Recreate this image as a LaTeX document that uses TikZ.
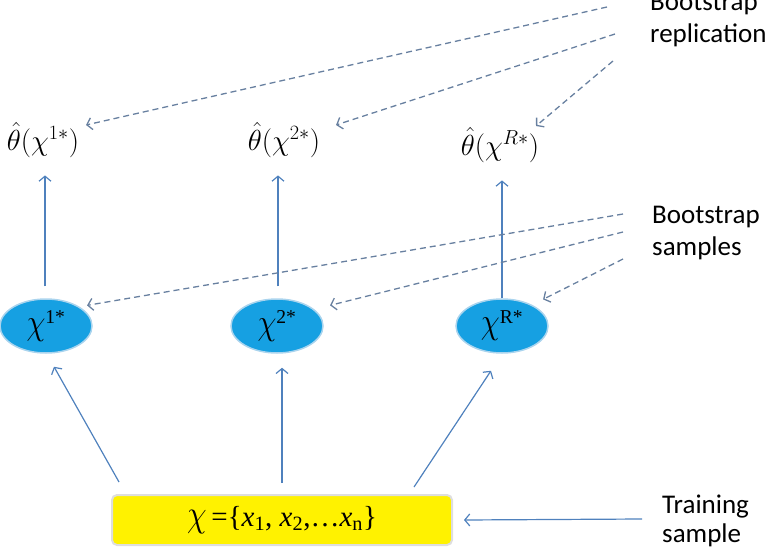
\documentclass[tikz,border=0pt]{standalone}
\usepackage{fix-cm}
\usepackage{graphicx}
\usepackage{fontspec}
\setmainfont{Liberation Serif}
\newfontfamily\calib{Carlito}
\usetikzlibrary{arrows.meta,shapes.geometric,calc}
\newcommand\tallchi{\scalebox{1.1}[1.3]{$\chi$}}
\definecolor{lineblue}{RGB}{79,129,189}
\definecolor{dashblue}{RGB}{104,128,160}
\definecolor{ellfill}{RGB}{22,160,226}
\definecolor{ellrim}{RGB}{170,212,238}
\definecolor{boxrim}{RGB}{222,222,222}
\begin{document}
\begin{tikzpicture}[x=1pt,y=-1pt,
  arr/.style={draw=lineblue, line width=1.2pt, -{Straight Barb[length=5pt,width=12pt]}},
  darr/.style={draw=dashblue, line width=1.3pt, dash pattern=on 6pt off 4pt, -{Straight Barb[length=5pt,width=12pt]}},
  sample/.style={ellipse, fill=ellfill, draw=ellrim, line width=1.5pt, inner sep=0pt, minimum width=92pt, minimum height=54pt, font=\fontsize{28}{32}\selectfont},
  est/.style={inner sep=0pt, anchor=base, font=\fontsize{29}{33}\selectfont},
  side/.style={inner sep=0pt, anchor=base west, align=left, font=\calib\fontsize{27}{32}\selectfont}]
\useasboundingbox (0,0) rectangle (768,559);

% training box
\node[draw=boxrim, line width=2pt, fill=yellow, rounded corners=5pt, minimum width=340pt, minimum height=50pt, inner sep=0pt,
      font=\fontsize{29}{32}\selectfont] (box) at (282,520) {\tallchi\,=\{\textit{x}\textsubscript{1}, \textit{x}\textsubscript{2},…\textit{x}\textsubscript{n}\}};

% bootstrap samples
\node[sample] (e1) at (46,326) {\tallchi\textsuperscript{1*}};
\node[sample] (e2) at (277,326) {\tallchi\textsuperscript{2*}};
\node[sample] (eR) at (502,326) {\tallchi\textsuperscript{R*}};

% estimates
\node[est] (t1) at (43,150) {$\hat{\theta}(\chi^{1*})$};
\node[est] (t2) at (284,150) {$\hat{\theta}(\chi^{2*})$};
\node[est] (tR) at (500,155) {$\hat{\theta}(\chi^{R*})$};

% side labels (base anchor = last line)
\node[side] (rep) at (650,43) {Bootstrap\\replication};
\node[side] (smp) at (652,255) {Bootstrap\\samples};
\node[side, font=\calib\fontsize{27}{29}\selectfont] (trn) at (662,542) {Training\\sample};

% free ends of connectors
\coordinate (r1) at (607,7);
\coordinate (r2) at (615,34);
\coordinate (r3) at (613,61);
\coordinate (s1) at (623,214);
\coordinate (s2) at (623,232);
\coordinate (s3) at (623,259);
\coordinate (tsrc) at (642,519);

% solid arrows
\draw[arr] ($(box.north west)+(8,-12)$) -- ($(e1.south)+(8,13)$);
\draw[arr] ($(box.north)+(0,-11)$) -- ($(box.north |- e2.south)+(0,14)$);
\draw[arr] ($(box.north east)+(-39,-7)$) -- ($(eR.south)+(-11,17)$);
\draw[arr] ($(e1.north)+(-1,-12)$) -- ($(e1.north |- t1.south)+(-1,18)$);
\draw[arr] ($(e2.north)+(1,-12)$) -- ($(e2.north |- t2.south)+(1,18)$);
\draw[arr] (eR.north) -- ($(eR.north |- tR.south)+(0,18)$);
\draw[arr] (tsrc) -- ($(box.east)+(11,0)$);

% dashed arrows
\draw[darr] (r1) -- (86,125);
\draw[darr] (r2) -- (336,125);
\draw[darr] (r3) -- (536,126);
\draw[darr] (s1) -- ($(e1.north east)+(8,-1)$);
\draw[darr] (s2) -- ($(e2.north east)+(20,-1)$);
\draw[darr] (s3) -- ($(eR.north east)+(8,-7)$);
\end{tikzpicture}
\end{document}
